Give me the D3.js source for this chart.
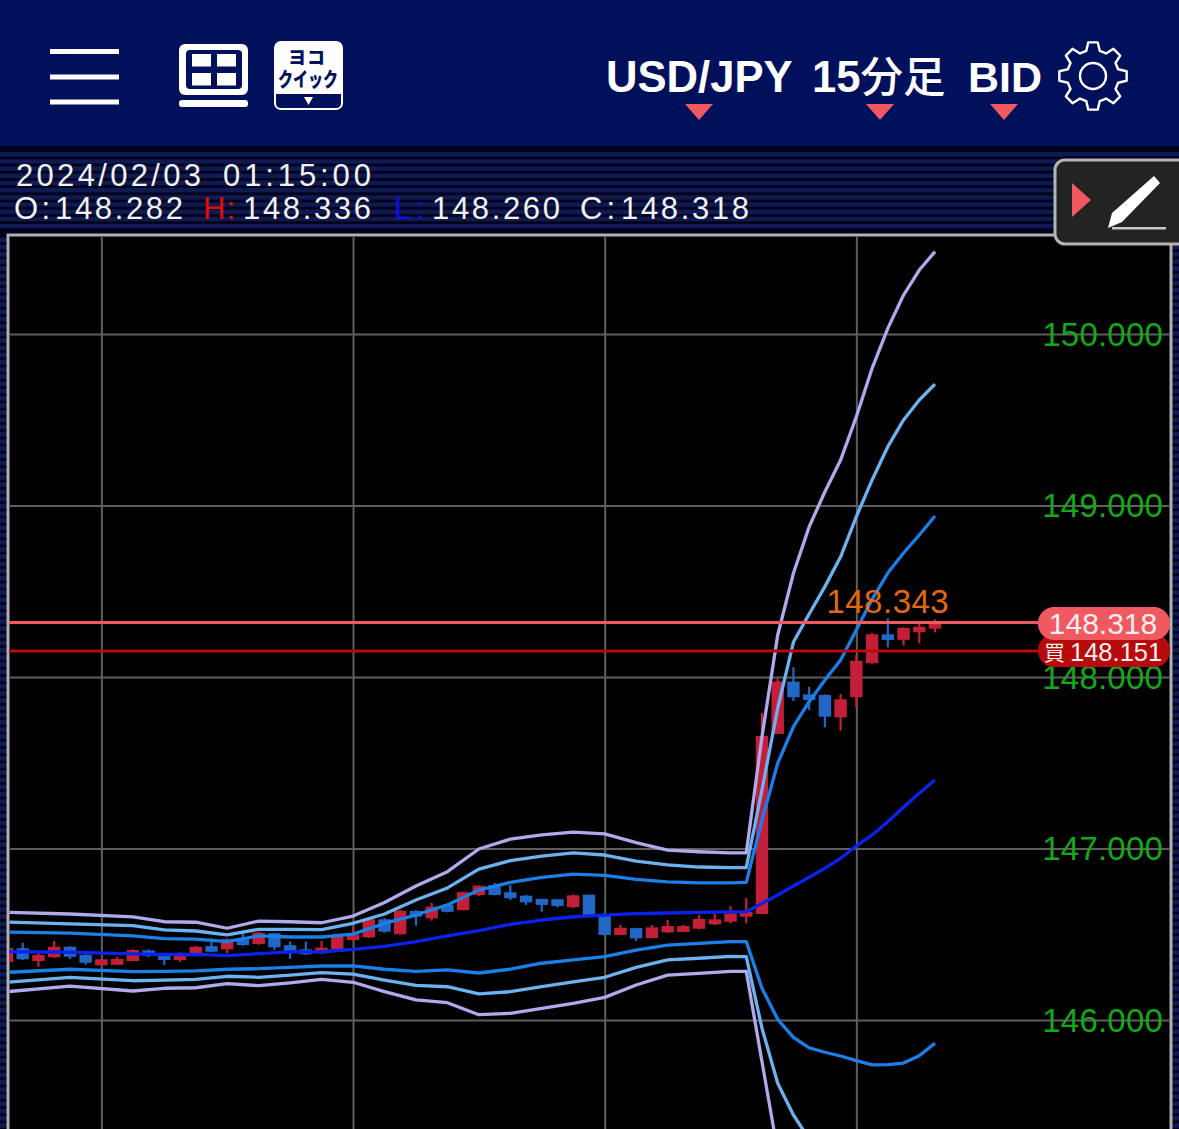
<!DOCTYPE html>
<html>
<head>
<meta charset="utf-8">
<script src="https://cdn.jsdelivr.net/npm/d3@7"></script>
<style>
body { margin: 0; background: #000; }
svg { display: block; }
text { font-family: "Liberation Sans", "Noto Sans CJK JP", sans-serif; }
</style>
</head>
<body>
<svg></svg>
<script>
let width = 1179;
let height = 1129;

// candles, one per 15 minutes, oldest first
let candleOpen = [146.338,146.418,146.344,146.366,146.427,146.379,146.319,146.322,146.344,146.406,
  146.383,146.350,146.383,146.431,146.412,146.471,146.443,146.506,146.436,146.412,
  146.389,146.412,146.466,146.482,146.587,146.501,146.636,146.593,146.671,146.641,
  146.729,146.787,146.745,146.725,146.706,146.704,146.659,146.731,146.612,146.496,
  146.536,146.478,146.511,146.513,146.532,146.558,146.573,146.602,146.618,147.668,
  147.973,147.899,147.895,147.765,147.882,148.080,148.249,148.217,148.261,148.282];
let candleHigh = [146.426,146.451,146.391,146.461,146.431,146.385,146.356,146.369,146.412,146.412,
  146.385,146.395,146.431,146.476,146.476,146.501,146.513,146.509,146.457,146.457,
  146.461,146.490,146.544,146.591,146.595,146.641,146.641,146.684,146.676,146.748,
  146.785,146.799,146.787,146.729,146.708,146.706,146.731,146.731,146.622,146.554,
  146.538,146.554,146.583,146.554,146.612,146.618,146.665,146.711,147.792,147.992,
  148.057,147.943,147.899,147.901,148.128,148.257,148.343,148.292,148.313,148.336];
let candleLow = [146.332,146.350,146.311,146.362,146.356,146.322,146.315,146.319,146.342,146.366,
  146.321,146.340,146.379,146.395,146.389,146.433,146.439,146.408,146.356,146.379,
  146.385,146.408,146.462,146.478,146.509,146.496,146.550,146.579,146.628,146.639,
  146.723,146.727,146.700,146.671,146.631,146.657,146.653,146.610,146.494,146.494,
  146.461,146.476,146.509,146.511,146.528,146.554,146.564,146.564,146.618,147.668,
  147.860,147.808,147.707,147.687,147.823,148.078,148.173,148.183,148.197,148.260];
let candleClose = [146.420,146.354,146.379,146.427,146.369,146.334,146.354,146.356,146.408,146.373,
  146.350,146.391,146.427,146.398,146.471,146.437,146.509,146.424,146.398,146.383,
  146.422,146.486,146.500,146.587,146.515,146.636,146.602,146.661,146.631,146.745,
  146.783,146.729,146.710,146.686,146.671,146.665,146.727,146.612,146.496,146.538,
  146.476,146.540,146.548,146.548,146.589,146.587,146.622,146.631,147.656,147.973,
  147.882,147.866,147.769,147.870,148.095,148.249,148.216,148.286,148.293,148.318];

// candle numbers the band readings below belong to
let bandIndex = [0,4,8,10,12,14,16,18,20,22,24,26,28,30,32,34,36,38,40,42,44,46,
  47,48,49,50,51,52,53,54,55,56,57,58,59];
let upper3 = [146.628,146.618,146.601,146.573,146.570,146.535,146.577,146.573,146.567,146.606,146.685,
  146.781,146.865,146.997,147.055,147.079,147.096,147.085,147.034,146.991,146.981,146.974,
  146.974,147.652,148.245,148.605,148.876,149.080,149.265,149.518,149.800,150.033,150.227,150.373,150.480];
let upper2 = [146.571,146.560,146.550,146.525,146.519,146.496,146.529,146.529,146.527,146.564,146.618,
  146.700,146.770,146.880,146.929,146.956,146.974,146.962,146.927,146.904,146.892,146.888,
  146.889,147.341,147.819,148.204,148.367,148.527,148.701,148.935,149.149,149.343,149.499,149.615,149.708];
let upper1 = [146.513,146.507,146.490,146.474,146.472,146.457,146.490,146.484,146.484,146.501,146.563,
  146.612,146.671,146.758,146.802,146.832,146.850,146.843,146.820,146.805,146.799,146.799,
  146.802,147.166,147.497,147.710,147.856,147.983,148.099,148.274,148.453,148.606,148.723,148.828,148.939];
let middle = [146.398,146.395,146.385,146.382,146.383,146.375,146.387,146.397,146.398,146.412,146.429,
  146.457,146.490,146.521,146.558,146.583,146.602,146.612,146.620,146.624,146.628,146.630,
  146.631,146.680,146.729,146.781,146.832,146.885,146.943,147.015,147.079,147.156,147.240,147.322,147.399];
let lower1 = [146.278,146.296,146.282,146.283,146.286,146.296,146.299,146.307,146.315,146.315,146.296,
  146.284,146.292,146.274,146.296,146.331,146.350,146.369,146.408,146.436,146.447,146.457,
  146.457,146.185,146.004,145.899,145.838,145.812,145.790,145.763,145.738,145.740,145.749,145.792,145.864];
// the two outer lower bands leave the bottom of the picture, nothing can be read after that
let lower2 = [146.220,146.249,146.229,146.233,146.237,146.255,146.249,146.262,146.276,146.267,146.233,
  146.202,146.194,146.152,146.165,146.194,146.223,146.249,146.307,146.350,146.360,146.371,
  146.370,145.952,145.631,145.446,145.306];
let lower3 = [146.165,146.198,146.169,146.185,146.188,146.212,146.200,146.217,146.237,146.220,146.165,
  146.117,146.101,146.031,146.039,146.068,146.097,146.132,146.204,146.262,146.272,146.284,
  146.284,145.757,145.232];

let priceTicks = [146, 147, 148, 149, 150];
let timeTicks = [6, 22, 38, 54];
let bidPrice = 148.318;
let askPrice = 148.151;
let highPrice = 148.343;
let highIndex = 56;

let svg = d3.select('svg');
let x;
let y;

let navy = '#00105a';
let pink = '#f0595f';
let darkRed = '#b60a0c';

let drawCanvas = () => {
  svg.attr('width', width).attr('height', height);
  svg.append('rect').attr('width', width).attr('height', height).attr('fill', '#000');

  // header band
  svg.append('rect').attr('width', width).attr('height', 146).attr('fill', navy);

  // striped strip behind the OHLC text
  svg.append('rect').attr('y', 146).attr('width', width).attr('height', 90).attr('fill', '#01031a');
  svg.selectAll('.stripe').data(d3.range(11)).join('rect')
    .attr('class', 'stripe')
    .attr('y', d => 152 + d * 7.2)
    .attr('width', width)
    .attr('height', 4.4)
    .attr('fill', '#0f1a52');
  svg.append('rect').attr('x', 0).attr('y', 236).attr('width', 8).attr('height', height - 236).attr('fill', 'url(#sideStripes)');
  svg.append('rect').attr('x', 1172).attr('y', 236).attr('width', 7).attr('height', height - 236).attr('fill', 'url(#sideStripes)');

  let pattern = svg.append('defs').append('pattern')
    .attr('id', 'sideStripes').attr('width', 8).attr('height', 7.2)
    .attr('patternUnits', 'userSpaceOnUse');
  pattern.append('rect').attr('width', 8).attr('height', 7.2).attr('fill', '#01031a');
  pattern.append('rect').attr('width', 8).attr('height', 4.4).attr('fill', '#0f1a52');

  // chart frame
  svg.append('rect').attr('x', 8).attr('y', 235).attr('width', 1163).attr('height', height)
    .attr('fill', '#000').attr('stroke', '#b0b0b0').attr('stroke-width', 3);

  svg.append('defs').append('clipPath').attr('id', 'plot')
    .append('rect').attr('x', 9.5).attr('y', 236.5).attr('width', 1160).attr('height', height);
};

let generateScales = () => {
  x = d3.scaleLinear().domain([0, 59]).range([7, 935]);
  y = d3.scaleLinear().domain([146, 150]).range([1020, 334]);
};

let generateAxis = () => {
  let xAxis = d3.axisBottom(x).tickValues(timeTicks).tickSize(height).tickFormat('');
  let xg = svg.append('g').attr('transform', 'translate(0,236)').call(xAxis);
  xg.select('.domain').remove();
  xg.selectAll('line').attr('stroke', '#5e5e5e').attr('stroke-width', 2);

  let yAxis = d3.axisLeft(y).tickValues(priceTicks).tickSize(1160).tickFormat(d3.format('.3f'));
  let yg = svg.append('g').attr('transform', 'translate(1170,0)').call(yAxis);
  yg.select('.domain').remove();
  yg.selectAll('line').attr('stroke', '#5e5e5e').attr('stroke-width', 2);
  yg.selectAll('text')
    .attr('x', -7)
    .attr('dy', 11)
    .attr('text-anchor', 'end')
    .attr('letter-spacing', 0.2)
    .attr('fill', '#14a818')
    .attr('font-size', 33);
};

let drawCandles = () => {
  let g = svg.append('g').attr('clip-path', 'url(#plot)');
  let color = i => candleClose[i] >= candleOpen[i] ? '#c41f38' : '#2266c6';

  g.selectAll('.wick').data(candleOpen).join('line')
    .attr('class', 'wick')
    .attr('x1', (d, i) => x(i))
    .attr('x2', (d, i) => x(i))
    .attr('y1', (d, i) => y(candleHigh[i]))
    .attr('y2', (d, i) => y(candleLow[i]))
    .attr('stroke', (d, i) => color(i))
    .attr('stroke-width', 2.2);

  g.selectAll('.body').data(candleOpen).join('rect')
    .attr('class', 'body')
    .attr('x', (d, i) => x(i) - 6.2)
    .attr('width', 12.4)
    .attr('y', (d, i) => y(Math.max(candleOpen[i], candleClose[i])))
    .attr('height', (d, i) => Math.abs(y(candleOpen[i]) - y(candleClose[i])))
    .attr('fill', (d, i) => color(i));
};

let drawBands = () => {
  let g = svg.append('g').attr('clip-path', 'url(#plot)');
  let line = d3.line()
    .x((d, i) => x(bandIndex[i]))
    .y(d => y(d));

  let bands = [
    [upper3, '#aeaaec'], [lower3, '#aeaaec'],
    [upper2, '#6cb2f0'], [lower2, '#6cb2f0'],
    [upper1, '#1a7fe8'], [lower1, '#1a7fe8'],
    [middle, '#0a22ee']
  ];
  bands.forEach(b => {
    g.append('path')
      .attr('d', line(b[0]))
      .attr('fill', 'none')
      .attr('stroke', b[1])
      .attr('stroke-width', 3.3)
      .attr('stroke-linejoin', 'round');
  });
};

let drawPriceLines = () => {
  let g = svg.append('g');
  g.append('line').attr('x1', 9).attr('x2', 1045)
    .attr('y1', y(bidPrice)).attr('y2', y(bidPrice))
    .attr('stroke', pink).attr('stroke-width', 3);
  g.append('line').attr('x1', 9).attr('x2', 1045)
    .attr('y1', y(askPrice)).attr('y2', y(askPrice))
    .attr('stroke', darkRed).attr('stroke-width', 3);

  g.append('rect').attr('x', 1038).attr('y', y(askPrice) - 17).attr('width', 132).attr('height', 33)
    .attr('rx', 16).attr('fill', darkRed);
  g.append('rect').attr('x', 1038).attr('y', y(bidPrice) - 15.5).attr('width', 132).attr('height', 33)
    .attr('rx', 16).attr('fill', pink);

  g.append('text').text(d3.format('.3f')(bidPrice))
    .attr('x', 1103).attr('y', y(bidPrice) + 11.5)
    .attr('text-anchor', 'middle').attr('font-size', 30).attr('fill', '#fbeeee');
  g.append('text').text('買')
    .attr('x', 1044).attr('y', y(askPrice) + 9)
    .attr('font-size', 21).attr('fill', '#fbeeee');
  g.append('text').text(d3.format('.3f')(askPrice))
    .attr('x', 1070).attr('y', y(askPrice) + 10)
    .attr('font-size', 25.5).attr('fill', '#fbeeee');

  g.append('text').text(d3.format('.3f')(highPrice))
    .attr('x', x(highIndex)).attr('y', y(highPrice) - 5)
    .attr('text-anchor', 'middle')
    .attr('font-size', 33).attr('letter-spacing', 0.5).attr('fill', '#e2690f');
};

let drawInfo = () => {
  let items = [
    ['2024/02/03', 16, 186, 185, '#f2f2f2'],
    ['01:15:00', 223, 186, 148, '#f2f2f2'],
    ['O:', 14, 219, 36, '#f2f2f2'],
    ['148.282', 55, 219, 128, '#f2f2f2'],
    ['H:', 203, 219, 32, '#e00c0c'],
    ['148.336', 243, 219, 128, '#f2f2f2'],
    ['L:', 394, 219, 30, '#0a10e0'],
    ['148.260', 432, 219, 128, '#f2f2f2'],
    ['C:', 580, 219, 35, '#f2f2f2'],
    ['148.318', 621, 219, 128, '#f2f2f2']
  ];
  svg.selectAll('.info').data(items).join('text')
    .attr('class', 'info')
    .text(d => d[0])
    .attr('x', d => d[1])
    .attr('y', d => d[2])
    .attr('textLength', d => d[3])
    .attr('lengthAdjust', 'spacing')
    .attr('font-size', 31)
    .attr('fill', d => d[4]);
};

let drawHeader = () => {
  let g = svg.append('g').attr('fill', '#fff');

  // menu
  [51.5, 77, 102].forEach(v => {
    g.append('rect').attr('x', 50).attr('y', v - 2.5).attr('width', 69).attr('height', 5);
  });

  // layout icon
  g.append('rect').attr('x', 179).attr('y', 44).attr('width', 69).attr('height', 51).attr('rx', 6);
  g.append('rect').attr('x', 179).attr('y', 100).attr('width', 69).attr('height', 7).attr('rx', 3);
  g.append('rect').attr('x', 186).attr('y', 50).attr('width', 56).attr('height', 39).attr('rx', 4).attr('fill', navy);
  [[192, 54], [217, 54], [192, 73], [217, 73]].forEach(p => {
    g.append('rect').attr('x', p[0]).attr('y', p[1]).attr('width', 19).attr('height', 12.5);
  });

  // quick order icon
  g.append('rect').attr('x', 274).attr('y', 41).attr('width', 69).attr('height', 69).attr('rx', 7);
  g.append('path').attr('d', 'M276 94H341V103Q341 108 336 108H281Q276 108 276 103Z').attr('fill', navy);
  g.append('path').attr('d', 'M304 97H313L308.500 105Z');
  g.append('text').text('ヨコ')
    .attr('x', 288).attr('y', 64).attr('textLength', 37).attr('lengthAdjust', 'spacing')
    .attr('font-size', 18).attr('font-weight', 900).attr('fill', navy);
  g.append('text').text('クイック')
    .attr('x', 278).attr('y', 87).attr('textLength', 60).attr('lengthAdjust', 'spacingAndGlyphs')
    .attr('font-size', 20).attr('font-weight', 900).attr('fill', navy);

  // symbol, period and price type
  g.append('text').text('USD/JPY').attr('x', 606).attr('y', 92).attr('font-size', 43.6).attr('font-weight', 700);
  let period = g.append('text').attr('x', 812).attr('y', 92).attr('font-size', 43.6).attr('font-weight', 700);
  period.append('tspan').text('15');
  period.append('tspan').text('分足').attr('font-size', 42.5).attr('font-weight', 500);
  g.append('text').text('BID').attr('x', 968).attr('y', 92).attr('font-size', 43).attr('font-weight', 700);

  [699, 880, 1004].forEach(c => {
    g.append('path').attr('d', `M${c - 14} 104H${c + 14}L${c} 120Z`).attr('fill', pink);
  });

  // settings gear
  let gearPoints = [];
  d3.range(8).forEach(k => {
    let a = k * Math.PI / 4;
    let s = Math.PI / 180;
    gearPoints.push([a - 15 * s, 26], [a - 8 * s, 34], [a + 8 * s, 34], [a + 15 * s, 26]);
  });
  let gear = svg.append('g').attr('transform', 'translate(1093,76)')
    .attr('fill', 'none').attr('stroke', '#fff').attr('stroke-width', 2.4).attr('stroke-linejoin', 'round');
  gear.append('path').attr('d', d3.lineRadial().curve(d3.curveLinearClosed)(gearPoints));
  gear.append('circle').attr('r', 13);
};

let drawButton = () => {
  let g = svg.append('g');
  g.append('rect').attr('x', 1055).attr('y', 160).attr('width', 140).attr('height', 84).attr('rx', 10)
    .attr('fill', '#232323').attr('stroke', '#b4b4b4').attr('stroke-width', 3);
  g.append('path').attr('d', 'M1072 183L1091 200L1072 217Z').attr('fill', pink);
  g.append('path').attr('d', 'M1108 228L1112 213L1154 176L1160 183L1122 222Z').attr('fill', '#fff');
  g.append('rect').attr('x', 1112).attr('y', 227).attr('width', 54).attr('height', 2.5).attr('fill', '#c8c8c8');
};

drawCanvas();
generateScales();
generateAxis();
drawCandles();
drawBands();
drawPriceLines();
drawInfo();
drawHeader();
drawButton();
</script>
</body>
</html>
